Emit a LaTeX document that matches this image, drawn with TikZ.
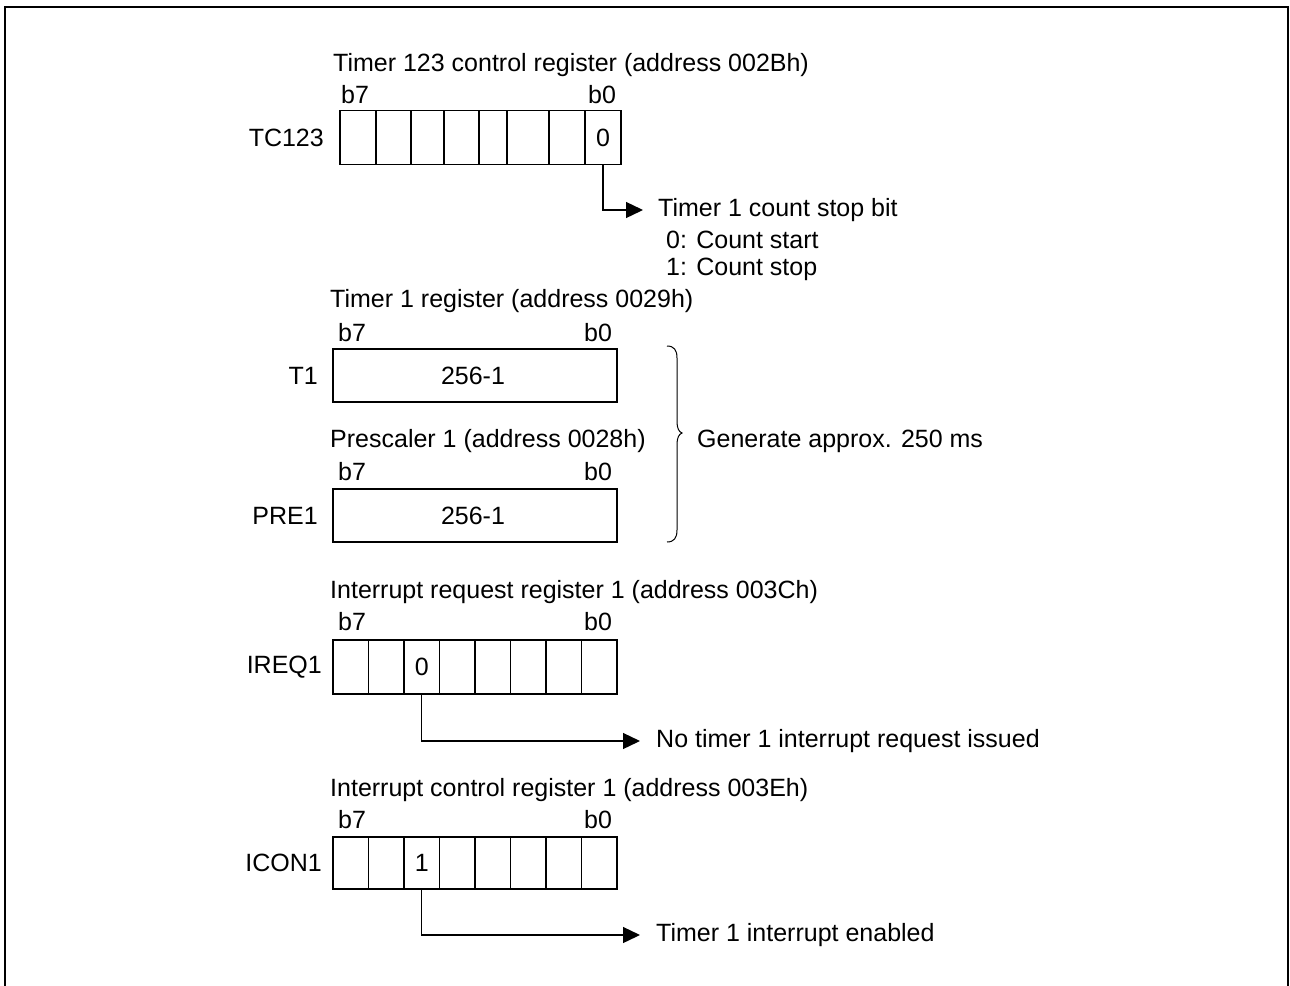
\documentclass[tikz,border=0pt]{standalone}
\usepackage{fontspec}
\setmainfont{Liberation Sans}
\usetikzlibrary{arrows.meta}
\begin{document}
\begin{tikzpicture}[x=1pt,y=-1pt,
  every node/.style={font=\fontsize{25}{30}\selectfont, inner sep=0pt},
  cell/.style={draw, line width=1.3pt, minimum height=54pt},
  wide/.style={draw, line width=1.3pt, minimum width=284pt, minimum height=53pt},
  lbl/.style={anchor=west},
  rname/.style={anchor=east},
  conn/.style={line width=1.3pt, -{Triangle[length=17pt,width=16pt]}}
]
\useasboundingbox (0,0) rectangle (1290,985);
\draw[line width=2.6pt] (5,986) -- (5,7) -- (1288,7) -- (1288,986);

% ---------- TC123
\node[lbl] (tctitle) at (333,65) {Timer 123 control register (address 002Bh)};
\node (tcb7) at (355,95) {b7};
\node (tcb0) at (602,95) {b0};
\node[rname] (tcname) at (324,138) {TC123};
\foreach \a/\b [count=\i] in {340/376,376/411,411/444,444/479,479/507,507/549,549/585,585/621}
  \node[cell, minimum width={\b-\a}] (tc\i) at ({(\a+\b)/2},137.5) {};
\node (tcv) at (tc8.center) {0};
\node[lbl] (tctext) at (658,210) {Timer 1 count stop bit};
\node[lbl] (tcs0) at (666,240) {0: Count start};
\node[lbl] (tcs1) at (666,269) {1: Count stop};
\draw[conn] (tc8.south) |- ([xshift=-15pt]tctext.west);

% ---------- T1
\node[lbl] (t1title) at (330,301) {Timer 1 register (address 0029h)};
\node (t1b7) at (352,333) {b7};
\node (t1b0) at (598,333) {b0};
\node[rname] (t1name) at (318,376) {T1};
\node[wide] (t1) at (475,375.5) {};
\node (t1v) at (473,375.5) {256-1};

% ---------- PRE1
\node[lbl] (p1title) at (330,441) {Prescaler 1 (address 0028h)};
\node (p1b7) at (352,472) {b7};
\node (p1b0) at (598,472) {b0};
\node[rname] (p1name) at (318,516) {PRE1};
\node[wide] (p1) at (475,515.5) {};
\node (p1v) at (473,515.5) {256-1};

% brace
\draw[line width=1pt] (667,346) .. controls (674,346) and (677,350) .. (677,358) -- (677,422)
  .. controls (677,428) and (679,432) .. (682,433) .. controls (679,434) and (677,438) .. (677,444)
  -- (677,530) .. controls (677,538) and (674,542) .. (667,542);
\node[lbl] (gen) at (697,441) {Generate approx. 250 ms};

% ---------- IREQ1
\node[lbl] (irtitle) at (330,592) {Interrupt request register 1 (address 003Ch)};
\node (irb7) at (352,622) {b7};
\node (irb0) at (598,622) {b0};
\node[rname] (irname) at (322,667) {IREQ1};
\foreach \i in {1,...,8}
  \node[cell, minimum width=35.5pt] (ir\i) at ({333+35.5*(\i-0.5)},667) {};
\node (irv) at (ir3.center) {0};
\node[lbl] (irtext) at (656,741) {No timer 1 interrupt request issued};
\draw[conn] (ir3.south) |- ([xshift=-16pt]irtext.west);

% ---------- ICON1
\node[lbl] (ictitle) at (330,790) {Interrupt control register 1 (address 003Eh)};
\node (icb7) at (352,820) {b7};
\node (icb0) at (598,820) {b0};
\node[rname] (icname) at (322,863) {ICON1};
\foreach \i in {1,...,8}
  \node[cell, minimum width=35.5pt, minimum height=52pt] (ic\i) at ({333+35.5*(\i-0.5)},863) {};
\node (icv) at (ic3.center) {1};
\node[lbl] (ictext) at (656,935) {Timer 1 interrupt enabled};
\draw[conn] (ic3.south) |- ([xshift=-16pt]ictext.west);
\end{tikzpicture}
\end{document}
